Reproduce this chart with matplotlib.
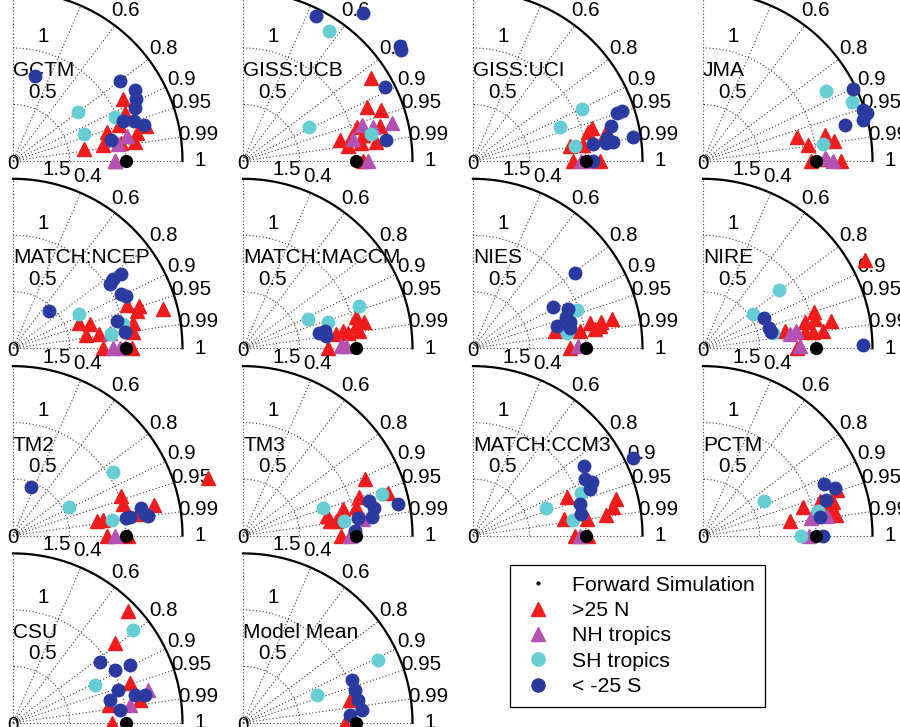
import numpy as np
import matplotlib.pyplot as plt
from matplotlib.lines import Line2D

plt.rcParams['font.family'] = ['Liberation Sans', 'DejaVu Sans']

# (normalised std, correlation) per latitude band
gctm_n25 = [(1.12, .872), (1.08, .921), (0.99, .947), (1.22, .967), (0.87, .955), (1.12, .976),
            (0.81, .985), (0.64, .987), (1.09, .988), (0.97, .987), (0.90, 1.0)]
gctm_nht = [(1.03, .977), (0.94, .987), (0.90, 1.0)]
gctm_sht = [(0.72, .797), (0.98, .917), (0.67, .936)]
gctm_s25 = [(0.78, .247), (1.18, .80), (1.25, .864), (1.22, .893), (1.18, .916), (1.04, .939),
            (1.13, .949), (1.20, .964), (0.89, .978)]

ucb_n25 = [(1.35, .841), (1.20, .918), (1.30, .937), (1.05, .957), (1.25, .969), (0.88, .977),
           (0.98, .979), (1.09, .977), (0.94, .990), (1.06, .989), (1.19, .990), (1.06, 1.0)]
ucb_nht = [(1.10, .957), (1.19, .967), (1.36, .969), (0.99, .981), (1.11, 1.0)]
ucb_sht = [(1.38, .551), (0.66, .889), (1.16, .979)]
ucb_s25 = [(1.44, .448), (1.69, .63), (1.72, .808), (1.71, .819), (1.42, .888), (1.28, .989)]

uci_n25 = [(1.09, .964), (1.05, .969), (1.19, .979), (0.87, .988), (0.98, .990), (0.885, 1.0),
           (1.12, 1.0)]
uci_nht = [(0.96, 1.0), (1.02, 1.0)]
uci_sht = [(1.07, .901), (0.83, .930), (0.91, .989)]
uci_s25 = [(1.34, .949), (1.39, .948), (1.26, .970), (1.20, .986), (1.19, .991), (1.25, .991),
           (1.43, .989), (1.07, .990), (1.06, 1.0)]

jma_n25 = [(0.86, .968), (0.94, .989), (1.10, .978), (1.17, .989), (0.96, 1.0), (1.22, 1.0),
           (1.09, .9999)]
jma_nht = [(1.08, .9997), (1.15, 1.0)]
jma_sht = [(1.25, .868), (1.42, .929), (1.07, .990)]
jma_s25 = [(1.47, .902), (1.49, .953), (1.51, .960), (1.46, .968), (1.30, .970)]

ncep_n25 = [(1.08, .936), (1.18, .948), (1.15, .958), (1.37, .968), (0.62, .935), (0.71, .954),
            (1.09, .978), (0.66, .985), (0.77, .987), (1.07, .991), (0.80, 1.0), (1.05, 1.0)]
ncep_nht = [(0.87, .988), (0.885, 1.0), (0.95, 1.0)]
ncep_sht = [(0.66, .889), (1.00, .977), (0.88, .989)]
ncep_s25 = [(0.46, .694), (1.16, .826), (1.08, .823), (1.03, .834), (1.07, .895), (1.10, .908),
            (0.95, .967), (1.00, .989)]

maccm_n25 = [(1.04, .965), (1.10, .977), (1.02, .981), (0.90, .985), (0.835, .989), (0.94, .990),
             (1.04, .989), (0.75, 1.0)]
maccm_nht = [(0.87, .9997), (0.915, .9997)]
maccm_sht = [(1.09, .938), (0.63, .913), (0.79, .957)]
maccm_s25 = [(0.69, .981), (0.74, .978), (0.745, .989)]

nies_n25 = [(1.26, .978), (1.16, .980), (1.06, .978), (1.09, .987), (0.96, .987), (0.74, .978),
            (1.14, .985), (0.855, 1.0)]
nies_nht = [(0.93, .9997)]
nies_sht = [(0.98, .938), (0.84, .987)]
nies_s25 = [(1.12, .805), (0.80, .887), (0.91, .925), (0.87, .947), (0.89, .965), (0.77, .966),
            (0.875, .978)]

nire_n25 = [(1.63, .878), (1.03, .950), (1.16, .978), (0.93, .968), (1.02, .968), (1.07, .990),
            (0.74, .978), (0.91, .988), (0.98, .989), (0.83, 1.0)]
nire_nht = [(0.84, .983), (0.78, .987), (0.86, .9998)]
nire_sht = [(0.85, .793), (0.535, .827), (0.63, .977)]
nire_s25 = [(0.60, .893), (0.61, .954), (0.62, .973), (1.42, .9998)]

tm2_n25 = [(1.80, .959), (1.02, .939), (1.28, .977), (1.01, .960), (0.755, .985), (0.81, .986),
           (1.11, .985), (0.83, 1.0), (1.02, 1.0)]
tm2_nht = [(0.90, 1.0)]
tm2_sht = [(1.05, .846), (0.56, .892), (0.89, .988)]
tm2_s25 = [(0.46, .353), (1.16, .978), (1.18, .987), (1.21, .990), (1.01, .988), (1.05, .988)]

tm3_n25 = [(1.19, .907), (1.34, .959), (1.08, .950), (1.03, .969), (0.915, .967), (0.76, .973),
           (0.78, .986), (0.83, .987), (0.87, 1.0)]
tm3_nht = [(1.07, .990), (0.945, 1.0)]
tm3_sht = [(1.28, .958), (0.75, .947), (0.90, .989)]
tm3_s25 = [(1.40, .980), (1.16, .964), (1.18, .979), (1.15, .990), (1.03, .989), (0.99, .9991)]

ccm3_n25 = [(1.31, .969), (1.26, .980), (1.19, .988), (0.90, .927), (0.82, .984), (1.02, .989),
            (0.90, 1.0), (1.02, 1.0)]
ccm3_nht = [(0.95, 1.0), (0.97, .977)]
ccm3_sht = [(1.03, .929), (0.69, .936), (0.895, .988)]
ccm3_s25 = [(1.57, .900), (1.16, .848), (1.11, .893), (1.16, .911), (1.11, .929), (0.99, .958),
            (0.97, .981)]

pctm_n25 = [(1.25, .947), (1.19, .968), (1.08, .958), (0.92, .961), (0.78, .987), (1.19, .988),
            (1.14, .979)]
pctm_nht = [(0.97, .987), (1.11, .988), (0.94, 1.0)]
pctm_sht = [(0.62, .868), (1.04, .978), (0.87, 1.0)]
pctm_s25 = [(1.16, .920), (1.24, .941), (1.13, .961), (1.05, .988), (1.06, 1.0)]

csu_n25 = [(1.42, .716), (1.15, .787), (1.09, .946), (0.86, .983), (1.14, .984), (0.88, 1.0)]
csu_nht = [(1.23, .971), (1.05, .988)]
csu_sht = [(1.34, .790), (0.80, .907)]
csu_s25 = [(0.94, .819), (1.02, .887), (1.16, .896), (0.97, .954), (1.11, .975), (1.19, .978),
           (0.95, .993), (0.88, .973)]

mean_n25 = [(0.90, 1.0), (0.97, .978)]
mean_nht = [(0.99, 1.0)]
mean_sht = [(0.70, .935), (1.32, .906)]
mean_s25 = [(1.04, .930), (1.03, .959), (1.04, .981), (1.06, .994), (0.95, .997)]

models = ['GCTM', 'GISS:UCB', 'GISS:UCI', 'JMA', 'MATCH:NCEP', 'MATCH:MACCM', 'NIES', 'NIRE',
          'TM2', 'TM3', 'MATCH:CCM3', 'PCTM', 'CSU', 'Model Mean']
panel_data = [
    (gctm_n25, gctm_nht, gctm_sht, gctm_s25), (ucb_n25, ucb_nht, ucb_sht, ucb_s25),
    (uci_n25, uci_nht, uci_sht, uci_s25), (jma_n25, jma_nht, jma_sht, jma_s25),
    (ncep_n25, ncep_nht, ncep_sht, ncep_s25), (maccm_n25, maccm_nht, maccm_sht, maccm_s25),
    (nies_n25, nies_nht, nies_sht, nies_s25), (nire_n25, nire_nht, nire_sht, nire_s25),
    (tm2_n25, tm2_nht, tm2_sht, tm2_s25), (tm3_n25, tm3_nht, tm3_sht, tm3_s25),
    (ccm3_n25, ccm3_nht, ccm3_sht, ccm3_s25), (pctm_n25, pctm_nht, pctm_sht, pctm_s25),
    (csu_n25, csu_nht, csu_sht, csu_s25), (mean_n25, mean_nht, mean_sht, mean_s25),
]

group_labels = ['>25 N', 'NH tropics', 'SH tropics', '< -25 S']
group_colors = ['#ee1c1c', '#b452b4', '#66cdd4', '#2a3a9e']
group_markers = ['^', '^', 'o', 'o']

corr_ticks = [0.4, 0.6, 0.8, 0.9, 0.95, 0.99, 1]

W, H = 900, 727
PX = 113.0  # pixels per unit of normalised std
DOT = (0, (1, 2))
FS = 14.8


def to_xy(pairs):
    s = np.array([p[0] for p in pairs])
    r = np.clip(np.array([p[1] for p in pairs]), -1, 1)
    return s * r, s * np.sqrt(1 - r ** 2)


def taylor_frame(ax, name):
    th = np.linspace(0, np.pi / 2, 200)
    ax.plot(1.5 * np.cos(th), 1.5 * np.sin(th), color='k', lw=1.6, clip_on=False, zorder=2)
    for s in [0.5, 1.0]:
        ax.plot(s * np.cos(th), s * np.sin(th), color='0.25', lw=0.8, ls=DOT, clip_on=False)
    for c in [0] + corr_ticks:
        t = np.arccos(c)
        ax.plot([0, 1.5 * np.cos(t)], [0, 1.5 * np.sin(t)], color='0.25', lw=0.8, ls=DOT,
                clip_on=False)
    for c in corr_ticks:
        t = np.arccos(c)
        ax.text(1.66 * np.cos(t), 1.66 * np.sin(t), f'{c:g}', ha='center', va='center',
                fontsize=FS, clip_on=False)
    ax.text(0, -0.02, '0', ha='center', va='center', fontsize=FS)
    ax.text(0.265, 0.61, '0.5', ha='center', va='center', fontsize=FS)
    ax.text(0.265, 1.106, '1', ha='center', va='center', fontsize=FS)
    ax.text(0.39, 1.58, '1.5', ha='center', va='center', fontsize=FS)
    ax.text(0, 0.8, name, ha='left', va='center', fontsize=15)


fig = plt.figure(figsize=(W / 100, H / 100), dpi=100)

for i, (name, groups) in enumerate(zip(models, panel_data)):
    row, col = divmod(i, 4)
    ox = 13 + 230 * col
    oy = 161 + 187.3 * row
    x0, x1, y0, y1 = -0.12, 1.9, -0.2, 1.45
    ax = fig.add_axes([(ox + x0 * PX) / W, (H - oy + y0 * PX) / H,
                       (x1 - x0) * PX / W, (y1 - y0) * PX / H])
    ax.set_xlim(x0, x1)
    ax.set_ylim(y0, y1)
    ax.axis('off')
    taylor_frame(ax, name)
    for pts, color, mk in zip(groups, group_colors, group_markers):
        x, y = to_xy(pts)
        ms = 9.5 if mk == '^' else 9
        ax.plot(x, y, ls='none', marker=mk, ms=ms, color=color, mec=color, clip_on=False,
                zorder=4)
    ax.plot([1], [0], ls='none', marker='o', ms=8.5, color='k', clip_on=False, zorder=5)

handles = [Line2D([], [], ls='none', marker='.', ms=4, color='k')]
handles += [Line2D([], [], ls='none', marker=m, ms=9.5, color=c)
            for m, c in zip(group_markers, group_colors)]
leg = fig.legend(handles, ['Forward Simulation'] + group_labels, loc='upper left',
                 bbox_to_anchor=(510 / W, 1 - 565 / H), fontsize=15.3, frameon=True,
                 fancybox=False, edgecolor='k', framealpha=1, borderaxespad=0,
                 labelspacing=0.3, handletextpad=0.8, borderpad=0.5, handlelength=1.6)
leg.get_frame().set_linewidth(0.9)

fig.savefig('out.png', dpi=100)
